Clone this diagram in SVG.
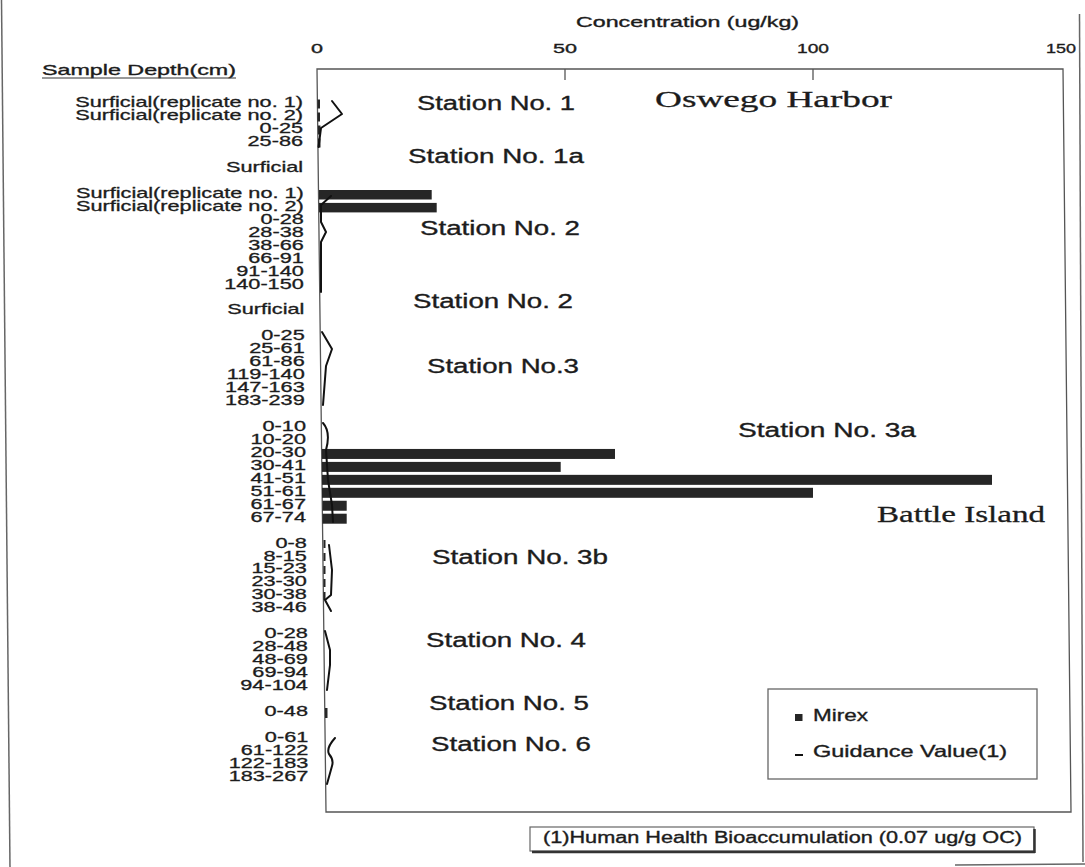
<svg xmlns="http://www.w3.org/2000/svg" width="1085" height="867" viewBox="0 0 1085 867">
<style>
  .s{font-family:"Liberation Sans",Arial,sans-serif;fill:#1c1c1c;stroke:#1c1c1c;stroke-width:0.35}
  .r{font-family:"Liberation Serif","Times New Roman",serif;fill:#1c1c1c;stroke:#1c1c1c;stroke-width:0.3}
  .lbl{font-family:"Liberation Sans",Arial,sans-serif;font-size:14px;fill:#1c1c1c;stroke:#1c1c1c;stroke-width:0.3;text-anchor:end}
  .st{font-family:"Liberation Sans",Arial,sans-serif;font-size:19.5px;fill:#1c1c1c;stroke:#1c1c1c;stroke-width:0.35}
  .bar{fill:#262626}
  .frame{fill:none;stroke:#555;stroke-width:1.3}
  .gv{fill:none;stroke:#111;stroke-width:2;stroke-linejoin:round;stroke-linecap:round}
</style>
<rect width="1085" height="867" fill="#ffffff"/>
<g id="page-frame" stroke="#666" stroke-width="1.5" fill="none">
  <line x1="1.5" y1="0" x2="10" y2="867"/>
  <line x1="1079.5" y1="14" x2="1083" y2="862"/>
  <line x1="955" y1="865" x2="1085" y2="864"/>
</g>
<g id="axis">
  <polygon class="frame" points="317,69 1063,69 1071,812 326,812"/>
  <line x1="565" y1="69" x2="565" y2="80" stroke="#555" stroke-width="1.3"/>
  <line x1="813" y1="69" x2="813" y2="80" stroke="#555" stroke-width="1.3"/>
  <text class="s" x="576" y="27" font-size="14.5" textLength="223" lengthAdjust="spacingAndGlyphs">Concentration (ug/kg)</text>
  <text class="s" x="311" y="53" font-size="13.5" textLength="12" lengthAdjust="spacingAndGlyphs">0</text>
  <text class="s" x="553" y="53" font-size="13.5" textLength="24" lengthAdjust="spacingAndGlyphs">50</text>
  <text class="s" x="797" y="53" font-size="13.5" textLength="32" lengthAdjust="spacingAndGlyphs">100</text>
  <text class="s" x="1046" y="53" font-size="13.5" textLength="30" lengthAdjust="spacingAndGlyphs">150</text>
  <text class="s" x="42" y="75" font-size="14.5" textLength="194" lengthAdjust="spacingAndGlyphs">Sample Depth(cm)</text>
  <line x1="42" y1="78" x2="236" y2="78" stroke="#333" stroke-width="1"/>
</g>
<g id="category-labels" transform="scale(1.55,1)">
  <text class="lbl" x="195.5" y="107.3">Surficial(replicate no. 1)</text>
  <text class="lbl" x="195.5" y="120.25">Surficial(replicate no. 2)</text>
  <text class="lbl" x="195.5" y="133.2">0-25</text>
  <text class="lbl" x="195.5" y="146.15">25-86</text>
  <text class="lbl" x="195.6" y="172.05">Surficial</text>
  <text class="lbl" x="196" y="197.95">Surficial(replicate no. 1)</text>
  <text class="lbl" x="196" y="210.9">Surficial(replicate no. 2)</text>
  <text class="lbl" x="196" y="223.85">0-28</text>
  <text class="lbl" x="196" y="236.8">28-38</text>
  <text class="lbl" x="196" y="249.75">38-66</text>
  <text class="lbl" x="196" y="262.7">66-91</text>
  <text class="lbl" x="196" y="275.65">91-140</text>
  <text class="lbl" x="196" y="288.6">140-150</text>
  <text class="lbl" x="196.4" y="314.5">Surficial</text>
  <text class="lbl" x="196.6" y="340.4">0-25</text>
  <text class="lbl" x="196.6" y="353.35">25-61</text>
  <text class="lbl" x="196.6" y="366.3">61-86</text>
  <text class="lbl" x="196.6" y="379.25">119-140</text>
  <text class="lbl" x="196.6" y="392.2">147-163</text>
  <text class="lbl" x="196.6" y="405.15">183-239</text>
  <text class="lbl" x="197.4" y="431.05">0-10</text>
  <text class="lbl" x="197.4" y="444">10-20</text>
  <text class="lbl" x="197.4" y="456.95">20-30</text>
  <text class="lbl" x="197.4" y="469.9">30-41</text>
  <text class="lbl" x="197.4" y="482.85">41-51</text>
  <text class="lbl" x="197.4" y="495.8">51-61</text>
  <text class="lbl" x="197.4" y="508.75">61-67</text>
  <text class="lbl" x="197.4" y="521.7">67-74</text>
  <text class="lbl" x="198" y="547.6">0-8</text>
  <text class="lbl" x="198" y="560.55">8-15</text>
  <text class="lbl" x="198" y="573.5">15-23</text>
  <text class="lbl" x="198" y="586.45">23-30</text>
  <text class="lbl" x="198" y="599.4">30-38</text>
  <text class="lbl" x="198" y="612.35">38-46</text>
  <text class="lbl" x="198.6" y="638.25">0-28</text>
  <text class="lbl" x="198.6" y="651.2">28-48</text>
  <text class="lbl" x="198.6" y="664.15">48-69</text>
  <text class="lbl" x="198.6" y="677.1">69-94</text>
  <text class="lbl" x="198.6" y="690.05">94-104</text>
  <text class="lbl" x="198.7" y="715.95">0-48</text>
  <text class="lbl" x="198.9" y="741.85">0-61</text>
  <text class="lbl" x="198.9" y="754.8">61-122</text>
  <text class="lbl" x="198.9" y="767.75">122-183</text>
  <text class="lbl" x="198.9" y="780.7">183-267</text>
</g>
<g id="mirex-bars">
  <rect class="bar" x="317.5" y="99.5" width="2.5" height="9"/>
  <rect class="bar" x="317.5" y="112.5" width="2.5" height="9"/>
  <rect class="bar" x="318" y="125.5" width="2.5" height="9"/>
  <rect class="bar" x="318" y="138.5" width="2.5" height="9"/>
  <rect class="bar" x="319" y="190" width="112.7" height="9.5"/>
  <rect class="bar" x="319" y="202.9" width="117.7" height="9.5"/>
  <rect class="bar" x="322" y="448.95" width="293" height="10"/>
  <rect class="bar" x="322" y="461.9" width="238.7" height="10"/>
  <rect class="bar" x="322" y="474.85" width="670" height="10"/>
  <rect class="bar" x="322" y="487.8" width="491" height="10"/>
  <rect class="bar" x="322.5" y="500.75" width="24.2" height="10"/>
  <rect class="bar" x="322.5" y="513.7" width="24.2" height="10"/>
  <rect class="bar" x="323.5" y="540" width="2" height="8"/>
  <rect class="bar" x="323.5" y="553" width="2" height="8"/>
  <rect class="bar" x="323.5" y="566" width="2" height="8"/>
  <rect class="bar" x="323.5" y="579" width="2" height="8"/>
  <rect class="bar" x="323.5" y="592" width="2" height="8"/>
  <rect class="bar" x="325" y="708" width="2.5" height="10"/>
</g>
<g id="guidance-line">
  <path class="gv" d="M332,101 L342,114 L321,128 L318.5,147"/>
  <path class="gv" d="M331,196 L321,205 L321,222 L326,232 L321,242 L321,292"/>
  <path class="gv" d="M322,332 L332,349 L326,366 L323,405"/>
  <path class="gv" d="M323,423 Q331,432 326,450 L328,480 L332,505 L333,522"/>
  <path class="gv" d="M329,545 L332,570 L331,595 L325,600 L331,611"/>
  <path class="gv" d="M325,631 L330,650 L330,665 L327,690"/>
  <path class="gv" d="M335,738 Q326,748 329,754 Q334,760 332,766 L327,784"/>
</g>
<g id="station-labels">
  <text class="st" x="417" y="110" textLength="158" lengthAdjust="spacingAndGlyphs">Station No. 1</text>
  <text class="st" x="408" y="163" textLength="176" lengthAdjust="spacingAndGlyphs">Station No. 1a</text>
  <text class="st" x="420" y="235" textLength="160" lengthAdjust="spacingAndGlyphs">Station No. 2</text>
  <text class="st" x="413" y="308" textLength="160" lengthAdjust="spacingAndGlyphs">Station No. 2</text>
  <text class="st" x="427" y="373" textLength="152" lengthAdjust="spacingAndGlyphs">Station No.3</text>
  <text class="st" x="738" y="437" textLength="178" lengthAdjust="spacingAndGlyphs">Station No. 3a</text>
  <text class="st" x="432" y="564" textLength="176" lengthAdjust="spacingAndGlyphs">Station No. 3b</text>
  <text class="st" x="426" y="647" textLength="160" lengthAdjust="spacingAndGlyphs">Station No. 4</text>
  <text class="st" x="429" y="710" textLength="160" lengthAdjust="spacingAndGlyphs">Station No. 5</text>
  <text class="st" x="431" y="751" textLength="160" lengthAdjust="spacingAndGlyphs">Station No. 6</text>
  <text class="r" x="655" y="107" font-size="24" textLength="237" lengthAdjust="spacingAndGlyphs">Oswego Harbor</text>
  <text class="r" x="877" y="522" font-size="23.5" textLength="168" lengthAdjust="spacingAndGlyphs">Battle Island</text>
</g>
<g id="legend">
  <rect x="768" y="689" width="269" height="90" fill="#fff" stroke="#666" stroke-width="1.3"/>
  <rect x="795" y="714" width="7.5" height="7" fill="#262626"/>
  <text class="s" x="813" y="720.5" font-size="16.5" textLength="55" lengthAdjust="spacingAndGlyphs">Mirex</text>
  <line x1="795" y1="755" x2="803" y2="755" stroke="#111" stroke-width="2"/>
  <text class="s" x="813" y="757" font-size="16.5" textLength="194" lengthAdjust="spacingAndGlyphs">Guidance Value(1)</text>
</g>
<g id="footnote">
  <rect x="530" y="827" width="504" height="24" fill="#fff" stroke="#666" stroke-width="1.2"/>
  <line x1="532" y1="852" x2="1035" y2="852" stroke="#333" stroke-width="2.5"/>
  <line x1="1034.5" y1="829" x2="1034.5" y2="853" stroke="#333" stroke-width="2.5"/>
  <text class="s" x="543" y="842.5" font-size="16" textLength="479" lengthAdjust="spacingAndGlyphs">(1)Human Health Bioaccumulation (0.07 ug/g OC)</text>
</g>
</svg>
